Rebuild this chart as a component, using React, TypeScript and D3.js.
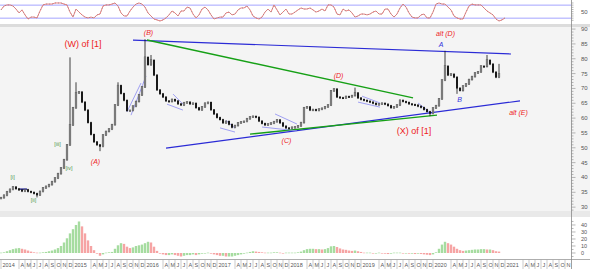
import React from "react";
import * as d3 from "d3";

const W = 590;
const H = 269;

// half-monthly series, starting January 2014 (index k -> month k/2)
const closes = [33.2, 34.0, 35.2, 36.0, 36.8, 36.2, 35.8, 35.4, 35.9, 35.3,
  35.0, 34.6, 34.1, 35.3, 36.5, 37.0, 37.6, 38.6, 39.8, 41.3,
  43.2, 46.0, 51.0, 57.7, 63.5, 68.5, 68.8, 65.4, 62.7, 58.5,
  54.5, 52.0, 51.0, 50.5, 54.3, 55.5, 56.3, 57.8, 64.4, 71.0,
  68.3, 66.0, 62.5, 62.6, 64.0, 65.6, 67.8, 70.5, 80.5, 78.0,
  79.5, 74.5, 69.5, 68.2, 67.1, 65.8, 65.6, 66.3, 65.8, 64.8,
  64.4, 65.2, 65.4, 64.8, 65.0, 63.5, 62.8, 63.8, 65.0, 65.3,
  62.8, 61.4, 60.2, 59.5, 58.4, 58.9, 57.9, 56.9, 57.5, 58.4,
  58.7, 58.9, 59.8, 60.4, 60.6, 60.3, 59.0, 58.2, 57.7, 58.0,
  58.3, 58.8, 59.4, 58.4, 57.3, 56.7, 56.6, 56.9, 57.0, 57.4,
  58.5, 63.5, 63.8, 62.7, 62.9, 62.6, 63.0, 63.3, 63.8, 64.4,
  69.2, 69.8, 67.1, 66.9, 66.8, 67.3, 67.2, 67.6, 68.5, 66.8,
  66.3, 66.0, 65.7, 65.4, 65.0, 64.6, 64.8, 65.0, 64.7, 64.2,
  63.5, 63.8, 64.4, 66.0, 65.6, 65.3, 64.8, 64.6, 64.4, 64.0,
  63.6, 62.9, 62.2, 61.6, 63.4, 64.2, 66.5, 72.8, 77.5, 74.5,
  74.8, 73.8, 70.1, 69.3, 70.8, 71.5, 73.0, 74.0, 75.2, 75.6,
  77.5, 77.4, 79.5, 78.2, 75.5, 73.8, 74.8];

const spikeHighIdx = [23, 48, 50, 118, 148, 162, 166, 25, 39];
const spikeHighVal = [80.2, 86.3, 81.0, 70.0, 82.4, 81.0, 78.0, 71.8, 71.8];
const spikeLowIdx = [33, 152, 143, 12];
const spikeLowVal = [49.2, 68.5, 61.0, 33.6];

const hist = [0.5, 1, 2.5, 4, 5.5, 6.5, 7, 6, 5, 3.5,
  2, 1, 0.5, 0.5, 1, 1.5, 2.5, 3.5, 5, 7,
  10, 15, 21, 28, 34, 40, 45, 38, 28, 18,
  10, 4, -1, -4, -2, 0.5, 1, 1.5, 6, 11,
  14, 13, 9, 7, 8, 10, 11, 12, 14, 16,
  15, 9, 3, -1, -2, -3, -3, -2, -3, -4,
  -5, -4, -3, -3, -2, -3, -2, -1, -0.5, 0.5,
  -1, -2, -3, -4, -4, -5, -5, -5, -4, -3,
  -2, -1, 0.5, 1.5, 2.5, 2, 1.5, 1, 0.5, 0.5,
  0.5, 1, 1, 0.5, 0, 0.5, 0.5, 0.5, 0.5, 1,
  2, 4, 5.5, 6, 6, 5.5, 5.5, 5, 5.5, 7,
  9.5, 10, 8.5, 6.5, 5, 4.5, 3.5, 3, 3.5, 2.5,
  1.5, 0.5, 0.5, 0.5, -0.5, -0.5, 0.5, -0.5, -1, -1.5,
  -1, 0.5, 0.5, 0.5, -0.5, -0.5, -1, -1, -1.5, -1,
  -1.5, -2, -2.5, -3, -2, 1, 6, 12, 16, 14,
  12, 9, 6, 4, 3, 3.5, 4, 4.5, 5, 5,
  5.5, 5.5, 5, 5, 4, 2.5, 2];

const osc = [58, 76, 81, 81, 76, 62, 44, 58, 35, 16,
  25, 25, 21, 53, 81, 85, 85, 85, 90, 90,
  90, 85, 81, 48, 25, 62, 48, 35, 25, 21,
  25, 21, 35, 39, 76, 81, 81, 85, 90, 76,
  44, 30, 30, 53, 71, 85, 90, 85, 71, 44,
  30, 16, 12, 7, 12, 21, 35, 53, 44, 30,
  53, 53, 71, 67, 39, 21, 35, 62, 71, 58,
  35, 16, 21, 25, 25, 44, 48, 35, 39, 58,
  67, 67, 76, 58, 30, 21, 16, 25, 48, 62,
  48, 81, 58, 35, 48, 62, 39, 39, 48, 58,
  67, 62, 62, 67, 58, 48, 53, 62, 53, 81,
  81, 71, 39, 35, 62, 53, 58, 44, 25, 30,
  39, 39, 35, 39, 48, 53, 39, 39, 62, 62,
  39, 25, 39, 67, 85, 71, 44, 25, 21, 21,
  35, 39, 21, 21, 48, 85, 90, 85, 85, 71,
  58, 30, 21, 16, 16, 48, 76, 85, 81, 81,
  81, 67, 53, 44, 35, 16, 7, 12, 21];

const oscBands = [20, 80];
const oscLabels = [50];
const priceLabels = [30, 35, 40, 45, 50, 55, 60, 65, 70, 75, 80, 85, 90];
const histLabels = [0, 10, 20, 30, 40];
const years = ["2014", "2015", "2016", "2017", "2018", "2019", "2020", "2021"];
const monthLetters = ["", "", "", "A", "M", "J", "J", "A", "S", "O", "N", "D"];

// trend lines: [month1, price1, month2, price2, kind]
const trendLines: [number, number, number, number, string][] = [
  [22, 86.3, 85, 81.6, "blue"],
  [24.33, 86.3, 68.67, 66.8, "green"],
  [27.5, 49.9, 86.5, 65.8, "blue"],
  [41.5, 54.6, 72.67, 61.0, "green"],
  [21, 62.1, 23.33, 71.8, "thin"],
  [21.67, 61.0, 24.17, 74.2, "thin"],
  [28.67, 68.1, 30.33, 64.7, "thin"],
  [27.67, 64.7, 30.33, 62.7, "thin"],
  [36.5, 56.7, 39, 55.3, "thin"],
  [37.5, 59.2, 39, 56.6, "thin"],
  [43.5, 57.0, 49.33, 55.7, "thin"],
  [45.67, 61.4, 49.33, 58.0, "thin"],
  [60.17, 67.4, 63.17, 65.1, "thin"],
  [59.5, 65.4, 63.17, 63.7, "thin"],
  [69.5, 65.1, 71.83, 61.4, "thin"],
  [3.17, 36.1, 4.33, 36.1, "navy"],
];

// labels: [text, month, price, kind]
const labels: [string, number, number, string][] = [
  ["(W) of [1]", 13.67, 83.8, "wave"],
  ["(X) of [1]", 68.83, 54.8, "wave"],
  ["(B)", 24.58, 88.0, "sub"],
  ["(A)", 15.75, 44.5, "sub"],
  ["(C)", 47.58, 51.6, "sub"],
  ["(D)", 56.25, 73.5, "sub"],
  ["alt (D)", 74.08, 87.5, "sub"],
  ["alt (E)", 86.25, 60.9, "sub"],
  ["A", 73.33, 84.1, "alt"],
  ["B", 76.42, 65.3, "alt"],
  ["[i]", 1.95, 39.5, "minor"],
  ["[ii]", 5.42, 31.8, "minor"],
  ["[iii]", 9.42, 50.6, "minor"],
  ["[iv]", 11.33, 42.4, "minor"],
];

const lineStyle: Record<string, { stroke: string; w: number }> = {
  blue: { stroke: "#2b2bd6", w: 1.2 },
  green: { stroke: "#16a016", w: 1.4 },
  thin: { stroke: "#8a8af2", w: 0.8 },
  navy: { stroke: "#000080", w: 1.3 },
};
const labelStyle: Record<string, any> = {
  wave: { fill: "#ee2222", size: 9, style: "normal" },
  sub: { fill: "#ee2222", size: 7, style: "italic" },
  alt: { fill: "#3333dd", size: 7, style: "italic" },
  minor: { fill: "#4e9a4e", size: 5.5, style: "normal" },
};

const FONT = "'Liberation Sans', Arial, sans-serif";
const AX = 571.5;

export default function App() {
  const x = d3.scaleLinear().domain([0, 95]).range([1, 571]);
  const yP = d3.scaleLinear().domain([28.7, 90.7]).range([211, 27]);
  const yH = d3.scaleLinear().domain([-9.3, 51.4]).range([259.5, 217]);
  const yO = d3.scaleLinear().domain([0, 100]).range([22.5, 0.8]);

  const candles = closes.map((c, k) => {
    const o = k === 0 ? c : closes[k - 1];
    const hi0 = Math.max(o, c);
    const lo0 = Math.min(o, c);
    const si = spikeHighIdx.indexOf(k);
    const li = spikeLowIdx.indexOf(k);
    return {
      t: k / 2,
      o,
      c,
      hi: si >= 0 ? Math.max(spikeHighVal[si], hi0) : hi0,
      lo: li >= 0 ? Math.min(spikeLowVal[li], lo0) : lo0,
    };
  });

  const oscLine = d3
    .line<number>()
    .x((_, k) => x(k / 2))
    .y((v) => yO(v));
  const oscPath = oscLine(osc) || "";

  const priceMinor = d3.range(29, 91, 1);
  const histMinor = d3.range(-5, 50, 5);
  const oscMinor = d3.range(10, 100, 10);

  const monthCells: { t: number; label: string }[] = [];
  years.forEach((yr, yi) => {
    for (let m = 0; m < 12; m++) {
      const label = m === 0 ? yr : monthLetters[m];
      if (label) monthCells.push({ t: yi * 12 + m, label });
    }
  });

  const bw = (x(0.5) - x(0)) * 0.62;

  return (
    <svg
      width={W}
      height={H}
      style={{ position: "absolute", left: 0, top: 0, fontFamily: FONT }}
    >
      <defs>
        <clipPath id="mainClip">
          <rect x={0} y={27} width={AX} height={184} />
        </clipPath>
        <clipPath id="oscClip">
          <rect x={0} y={0} width={AX} height={24} />
        </clipPath>
        <clipPath id="histClip">
          <rect x={0} y={217} width={AX} height={42.5} />
        </clipPath>
      </defs>
      {/* backgrounds */}
      <rect x={0} y={0} width={W} height={H} fill="#ffffff" />
      <rect x={0} y={0} width={W} height={24} fill="#ffffff" />
      <rect x={0} y={24} width={W} height={3} fill="#dcdcdc" />
      <rect x={0} y={27} width={W} height={184} fill="#f4f4f4" />
      <rect x={0} y={211} width={W} height={6} fill="#e9e9e9" />
      <rect x={0} y={217} width={W} height={42.5} fill="#ffffff" />
      <rect x={0} y={259.5} width={W} height={9.5} fill="#ffffff" />
      <line x1={0} x2={W} y1={259.5} y2={259.5} stroke="#999" strokeWidth={0.8} />

      {/* oscillator panel */}
      <g clipPath="url(#oscClip)">
        {oscBands.map((b) => (
          <line key={b} x1={0} x2={AX} y1={yO(b)} y2={yO(b)} stroke="#a4a4ff" strokeWidth={1} />
        ))}
        <path d={oscPath} fill="none" stroke="#f08080" strokeWidth={1} />
        <path d={oscPath} fill="none" stroke="#8a8a8a" strokeWidth={0.8} strokeDasharray="1 2" />
      </g>

      {/* main price panel */}
      <g clipPath="url(#mainClip)">
        {trendLines.map(([m1, p1, m2, p2, kind], i) => (
          <line
            key={"tl" + i}
            x1={x(m1)}
            y1={yP(p1)}
            x2={x(m2)}
            y2={yP(p2)}
            stroke={lineStyle[kind].stroke}
            strokeWidth={lineStyle[kind].w}
          />
        ))}
        {candles.map((d, k) => {
          const up = d.c >= d.o;
          const yTop = yP(Math.max(d.o, d.c));
          const h = Math.max(1, Math.abs(yP(d.o) - yP(d.c)));
          return (
            <g key={"c" + k}>
              <line x1={x(d.t)} x2={x(d.t)} y1={yP(d.hi) - 0.8} y2={yP(d.lo) + 1} stroke="#111" strokeWidth={0.8} />
              <rect
                x={x(d.t) - bw / 2}
                y={yTop - 0.4}
                width={bw}
                height={h + 0.8}
                fill={up ? "#8a8a8a" : "#111"}
                stroke={up ? "#444" : "none"}
                strokeWidth={0.3}
              />
            </g>
          );
        })}
        {labels.map(([text, m, p, kind], i) => {
          const s = labelStyle[kind];
          return (
            <text
              key={"lb" + i}
              x={x(m)}
              y={yP(p)}
              textAnchor="middle"
              fontSize={s.size}
              fontStyle={s.style}
              fill={s.fill}
            >
              {text}
            </text>
          );
        })}
      </g>

      {/* histogram panel */}
      <g clipPath="url(#histClip)">
        {hist.map((v, k) => {
          const prev = k === 0 ? 0 : hist[k - 1];
          const col = v >= prev ? "#a6dca0" : "#f6a4a4";
          const y0 = yH(0);
          const y1 = yH(v);
          return (
            <rect
              key={"h" + k}
              x={x(k / 2) - 1.2}
              y={Math.min(y0, y1)}
              width={2.4}
              height={Math.max(0.6, Math.abs(y1 - y0))}
              fill={col}
            />
          );
        })}
      </g>

      {/* right axis */}
      <line x1={AX} x2={AX} y1={0} y2={269} stroke="#888" strokeWidth={0.8} />
      {oscMinor.map((v) => (
        <line key={"om" + v} x1={AX} x2={AX + 2} y1={yO(v)} y2={yO(v)} stroke="#888" strokeWidth={0.6} />
      ))}
      {oscLabels.map((v) => (
        <text key={"ol" + v} x={581} y={yO(v) + 2} fontSize={6} fill="#555">
          {v}
        </text>
      ))}
      {priceMinor.map((v) => (
        <line
          key={"pm" + v}
          x1={AX}
          x2={AX + (v % 5 === 0 ? 4 : 2)}
          y1={yP(v)}
          y2={yP(v)}
          stroke="#888"
          strokeWidth={0.6}
        />
      ))}
      {priceLabels.map((v) => (
        <text key={"pl" + v} x={581} y={yP(v) + 2} fontSize={6} fill="#555">
          {v}
        </text>
      ))}
      {histMinor.map((v) => (
        <line
          key={"hm" + v}
          x1={AX}
          x2={AX + (v % 10 === 0 ? 4 : 2)}
          y1={yH(v)}
          y2={yH(v)}
          stroke="#888"
          strokeWidth={0.6}
        />
      ))}
      {histLabels.map((v) => (
        <text key={"hl" + v} x={581} y={yH(v) + 2} fontSize={5.5} fill="#555">
          {v}
        </text>
      ))}

      {/* bottom time axis */}
      {monthCells.map((c, i) => {
        const xx = x(c.t);
        if (xx > 569) return null;
        return (
          <g key={"mc" + i}>
            <line x1={xx} x2={xx} y1={259.5} y2={269} stroke="#aaa" strokeWidth={0.6} />
            <text x={xx + 1.5} y={266.5} fontSize={5.5} fill="#555">
              {c.label}
            </text>
          </g>
        );
      })}
    </svg>
  );
}
